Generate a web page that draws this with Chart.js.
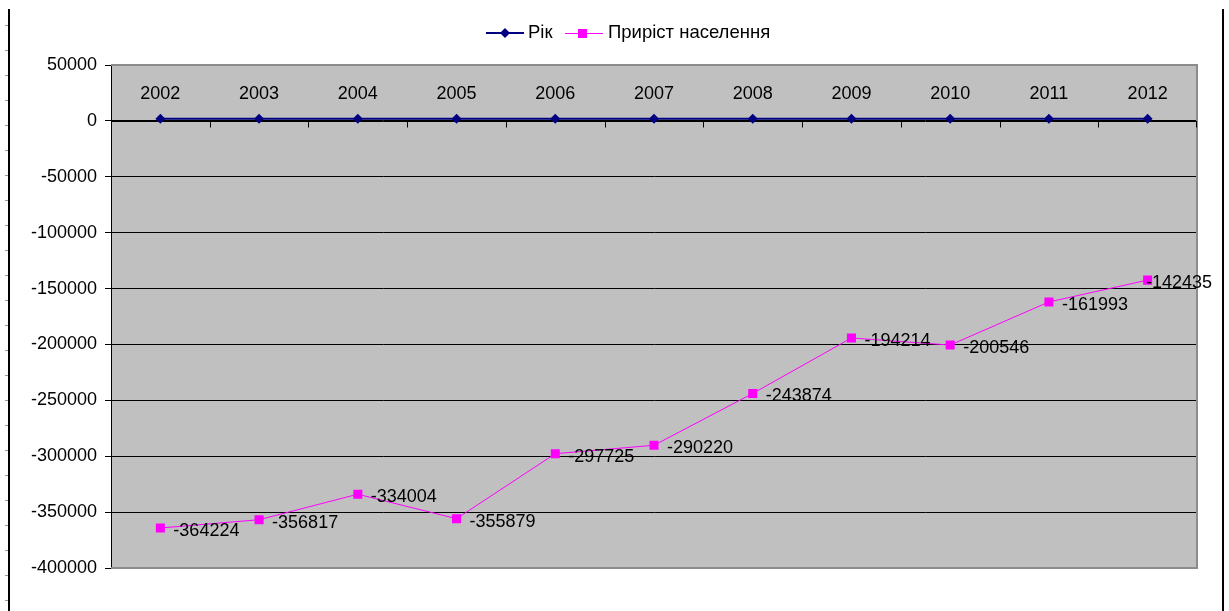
<!DOCTYPE html>
<html>
<head>
<meta charset="utf-8">
<title>Приріст населення</title>
<script src="https://cdn.jsdelivr.net/npm/chart.js@4.4.1/dist/chart.umd.min.js"></script>
<style>
  html, body { margin: 0; padding: 0; background: #fff; }
  #wrap { width: 1229px; height: 611px; position: relative; }
</style>
</head>
<body>
<div id="wrap"><canvas id="chart"></canvas></div>
<script>
// years on the category axis, and the two series (stacked line, like the Excel original)
const years = ['2002', '2003', '2004', '2005', '2006', '2007', '2008', '2009', '2010', '2011', '2012'];
const yearValues = [2002, 2003, 2004, 2005, 2006, 2007, 2008, 2009, 2010, 2011, 2012];
const growthValues = [-364224, -356817, -334004, -355879, -297725, -290220, -243874, -194214, -200546, -161993, -142435];
const legendLabels = ['Рік', 'Приріст населення'];

const FONT = '"Liberation Sans", Arial, sans-serif';
const NAVY = '#000080';
const MAGENTA = '#ff00ff';

const excelLook = {
    id: 'excelLook',
    beforeDraw(chart) {
        const { ctx, chartArea: a } = chart;
        ctx.save();
        // plot area fill
        ctx.fillStyle = '#c0c0c0';
        ctx.fillRect(a.left, a.top, a.right - a.left, a.bottom - a.top);
        // outer frame lines of the sheet
        ctx.strokeStyle = '#000';
        ctx.lineWidth = 2;
        ctx.beginPath();
        ctx.moveTo(9, 9); ctx.lineTo(9, 611);
        ctx.moveTo(1223, 9); ctx.lineTo(1223, 611);
        ctx.stroke();
        ctx.strokeStyle = '#999';
        ctx.lineWidth = 1;
        ctx.beginPath();
        for (let y = 25; y < 611; y += 25) {
            ctx.moveTo(5, y + 0.5); ctx.lineTo(8, y + 0.5);
        }
        ctx.stroke();
        ctx.restore();
    },
    beforeDatasetsDraw(chart) {
        const { ctx, chartArea: a, scales } = chart;
        const x = scales.x, y = scales.y;
        ctx.save();
        // plot border (top, right, bottom)
        ctx.strokeStyle = '#8c8c8c';
        ctx.lineWidth = 2;
        ctx.beginPath();
        ctx.moveTo(a.left, a.top); ctx.lineTo(a.right, a.top);
        ctx.lineTo(a.right, a.bottom); ctx.lineTo(a.left, a.bottom);
        ctx.stroke();
        // category axis crossing at zero, ticks between categories
        const y0 = Math.round(y.getPixelForValue(0)) + 0.5;
        ctx.strokeStyle = '#000';
        ctx.lineWidth = 1;
        ctx.beginPath();
        ctx.moveTo(a.left, y0); ctx.lineTo(a.right, y0);
        for (let i = 1; i < years.length; i++) {
            const bx = Math.round((x.getPixelForValue(i - 1) + x.getPixelForValue(i)) / 2) + 0.5;
            ctx.moveTo(bx, y0); ctx.lineTo(bx, y0 + 6);
        }
        ctx.moveTo(a.right - 0.5, y0); ctx.lineTo(a.right - 0.5, y0 + 6);
        ctx.stroke();
        ctx.restore();
    },
    afterDatasetsDraw(chart) {
        const { ctx, chartArea: a } = chart;
        ctx.save();
        ctx.font = '18px ' + FONT;
        ctx.fillStyle = '#000';
        ctx.textBaseline = 'middle';
        // year labels above points
        const m0 = chart.getDatasetMeta(0);
        ctx.textAlign = 'center';
        m0.data.forEach((p, i) => {
            ctx.fillText(String(yearValues[i]), p.x, p.y - 25);
        });
        // growth labels right of points, pulled back if they run off the frame
        const m1 = chart.getDatasetMeta(1);
        ctx.textAlign = 'left';
        m1.data.forEach((p, i) => {
            const txt = String(growthValues[i]);
            const w = ctx.measureText(txt).width;
            let lx = p.x + 13;
            if (lx + w > a.right + 15) lx = a.right + 15 - w;
            ctx.fillText(txt, lx, p.y + 3);
        });
        ctx.restore();
    },
    afterDraw(chart) {
        const { ctx } = chart;
        ctx.save();
        const ly = 33;
        ctx.lineWidth = 2;
        ctx.strokeStyle = NAVY;
        ctx.fillStyle = NAVY;
        ctx.beginPath(); ctx.moveTo(486, ly); ctx.lineTo(524, ly); ctx.stroke();
        ctx.beginPath();
        ctx.moveTo(505, ly - 5); ctx.lineTo(510, ly); ctx.lineTo(505, ly + 5); ctx.lineTo(500, ly);
        ctx.closePath(); ctx.fill();
        ctx.lineWidth = 1;
        ctx.strokeStyle = MAGENTA;
        ctx.fillStyle = MAGENTA;
        ctx.beginPath(); ctx.moveTo(565, ly + 0.5); ctx.lineTo(603, ly + 0.5); ctx.stroke();
        ctx.fillRect(578, ly - 4, 9, 9);
        ctx.font = '18.5px ' + FONT;
        ctx.fillStyle = '#000';
        ctx.textBaseline = 'middle';
        ctx.textAlign = 'left';
        ctx.fillText(legendLabels[0], 528, ly);
        ctx.fillText(legendLabels[1], 608, ly);
        ctx.restore();
    }
};

new Chart(document.getElementById('chart'), {
    type: 'line',
    data: {
        labels: years,
        datasets: [{
            label: legendLabels[0],
            data: yearValues,
            borderColor: NAVY,
            backgroundColor: NAVY,
            borderWidth: 2,
            pointStyle: 'rectRot',
            pointRadius: 5,
            pointBorderWidth: 0,
            fill: false,
            tension: 0
        }, {
            label: legendLabels[1],
            data: growthValues,
            borderColor: MAGENTA,
            backgroundColor: MAGENTA,
            borderWidth: 1,
            pointStyle: 'rect',
            pointRadius: 6.4,
            pointBorderWidth: 0,
            fill: false,
            tension: 0
        }]
    },
    options: {
        responsive: true,
        maintainAspectRatio: false,
        animation: false,
        layout: { padding: { top: 65, bottom: 43, right: 32, left: 0 } },
        plugins: {
            legend: { display: false },
            tooltip: { enabled: false }
        },
        scales: {
            x: {
                display: false,
                offset: true
            },
            y: {
                stacked: true,
                min: -400000,
                max: 50000,
                afterFit(scale) { scale.width = 111; },
                ticks: {
                    stepSize: 50000,
                    color: '#000',
                    padding: 8,
                    font: { family: FONT, size: 18 },
                    callback: v => String(v)
                },
                grid: {
                    color: c => (c.tick && (c.tick.value === 50000 || c.tick.value === -400000)) ? 'rgba(0,0,0,0)' : '#000',
                    tickColor: '#000',
                    tickLength: 6,
                    lineWidth: 1
                },
                border: { color: '#000', width: 1 }
            }
        }
    },
    plugins: [excelLook]
});
</script>
</body>
</html>
